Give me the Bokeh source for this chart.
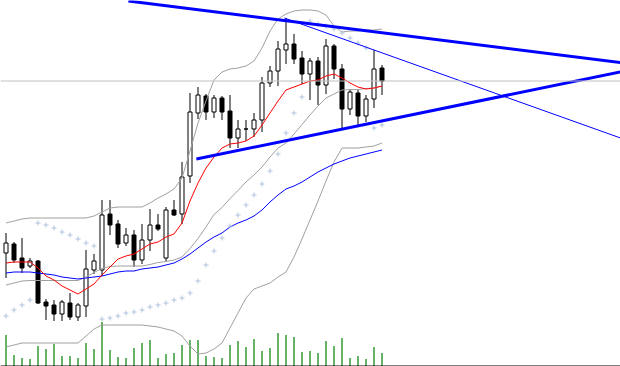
from bokeh.plotting import figure
from bokeh.models import Range1d, Span
from bokeh.embed import file_html
from bokeh.resources import INLINE

# ---- data (price in chart points, bar index 0..47) ----
idx = list(range(48))
opens = [114,123,109,101,106,65,62,53,64,50,61,97,97,153,143,124,132,107,127,142,109,157,153,191,254,271,255,269,256,229,238,238,247,284,296,317,323,309,293,306,282,321,298,258,274,251,268,299]
closes = [124,107,99,106,64,61,53,65,50,62,98,106,152,142,123,132,107,127,142,138,157,152,190,255,272,255,269,255,229,238,238,247,284,296,318,323,308,293,306,282,321,298,258,275,251,268,298,286]
highs = [134,125,129,109,107,68,67,67,74,64,117,113,167,167,147,139,137,143,158,153,160,167,205,274,280,273,272,271,272,247,247,254,290,301,326,349,333,316,309,310,328,323,303,277,277,272,317,302]
lows = [89,104,94,99,63,47,46,46,47,46,50,93,91,132,119,121,100,103,116,136,106,151,143,184,248,247,249,247,219,219,226,230,235,280,281,303,303,283,267,262,273,288,239,252,242,245,259,272]
volume = [31,11,8,7,20,17,22,10,10,8,23,17,44,16,9,8,18,23,26,8,12,13,21,26,26,10,9,8,21,25,19,27,15,18,33,31,29,14,15,13,25,20,28,8,10,7,19,13]

bb_upper = [144,146,148,149,149,149,149,149,149,149,149,151,155,159,160,160,160,160,164,169,173,178,189,216,244,266,287,295,298,299,301,306,319,336,348,353,356,357,357,356,352,341,335,336,336,337,337,338]
bb_middle = [82,84,86,86.5,86.5,86.5,86.5,86.5,86.5,86.5,90,94.5,98.5,100.5,101,101,101,101,102.5,104.5,105.5,107,110,118.5,128.5,140,152.5,159.5,168.5,176.5,185,192,200,210,219,224,233,242.5,252,261,269,273,277,277.5,277.5,278.5,279,281]
bb_lower = [20,22,24,24,24,24,24,24,24,24,31,38,42,42,42,42,42,42,41,40,38,36,31,21,13,14,18,24,39,54,69,78,81,84,90,95,110,128,147,166,186,205,219,219,219,220,221,224]
ma_fast = [104,105,105,105,99,91,87,81,77,73,78,83,92,100,108,111,113,118,123,125,130,133,144,166,184,199,210,219,223,224,226,231,242,254,266,277,280,283,286,287,291,293,289,284,280,278,279,281]
ma_slow = [94,95,95,95,94,93,92,90,89,88,89,90,91,93,95,96,96,98,99,100,102,104,108,113,119,125,130,134,140,144,147,151,157,165,172,178,181,185,190,195,199,203,206,209,211,213,215,217]
sar = [51,57,62,67,144,142,139,135,132,128,124,121,48,49,51,54,55,57,60,62,64,67,69,74,86,102,116,129,141,152,162,172,183,196,213,234,254,270,346,343,341,338,334,329,324,319,239,242]

bid_price = 286
trend_a_x = [15.3, 78.0]
trend_a_y = [366.0, 303.3]
trend_b_x = [23.8, 78.0]
trend_b_y = [208.0, 297.0]
trend_c_x = [34.8, 78.0]
trend_c_y = [349.0, 225.6]

# ---- figure ----
p = figure(width=620, height=366,
           x_range=Range1d(-0.6875, 76.8125), y_range=Range1d(0.5, 366.5),
           output_backend="svg", toolbar_location=None,
           x_axis_location=None, y_axis_location=None,
           min_border=0)
p.extra_y_ranges = {"vol": Range1d(-0.5, 365.5)}
p.grid.visible = False
p.outline_line_color = None
p.background_fill_color = "white"
p.border_fill_color = "white"

p.add_layout(Span(location=bid_price, dimension="width", line_color="#c0c0c0", line_width=1))

# volume
p.segment(x0=idx, y0=[0]*len(idx), x1=idx, y1=volume, y_range_name="vol",
          line_color="#007f00", line_width=1.2)
p.add_layout(Span(location=0, dimension="width", y_range_name="vol",
                  line_color="black", line_width=1))

# candles
p.segment(x0=idx, y0=lows, x1=idx, y1=highs, line_color="black", line_width=1)
up_x = [i for i in idx if closes[i] >= opens[i]]
dn_x = [i for i in idx if closes[i] < opens[i]]
p.vbar(x=up_x, width=0.5, bottom=[opens[i] for i in up_x], top=[closes[i] for i in up_x],
       fill_color="white", line_color="black", line_width=1)
p.vbar(x=dn_x, width=0.5, bottom=[closes[i] for i in dn_x], top=[opens[i] for i in dn_x],
       fill_color="black", line_color="black", line_width=1)

# indicators
for band in (bb_upper, bb_middle, bb_lower):
    p.line(idx, band, line_color="#a0a0a0", line_width=1)
p.line(idx, ma_slow, line_color="#0000ff", line_width=1)
p.line(idx, ma_fast, line_color="#ff0000", line_width=1)
p.scatter(idx, sar, marker="cross", size=5, line_color="#b0c4de", line_width=1)

# trend lines
p.line(trend_a_x, trend_a_y, line_color="#0000ff", line_width=3)
p.line(trend_b_x, trend_b_y, line_color="#0000ff", line_width=3)
p.line(trend_c_x, trend_c_y, line_color="#0000ff", line_width=1)

open("out.html", "w").write(file_html(p, INLINE))
